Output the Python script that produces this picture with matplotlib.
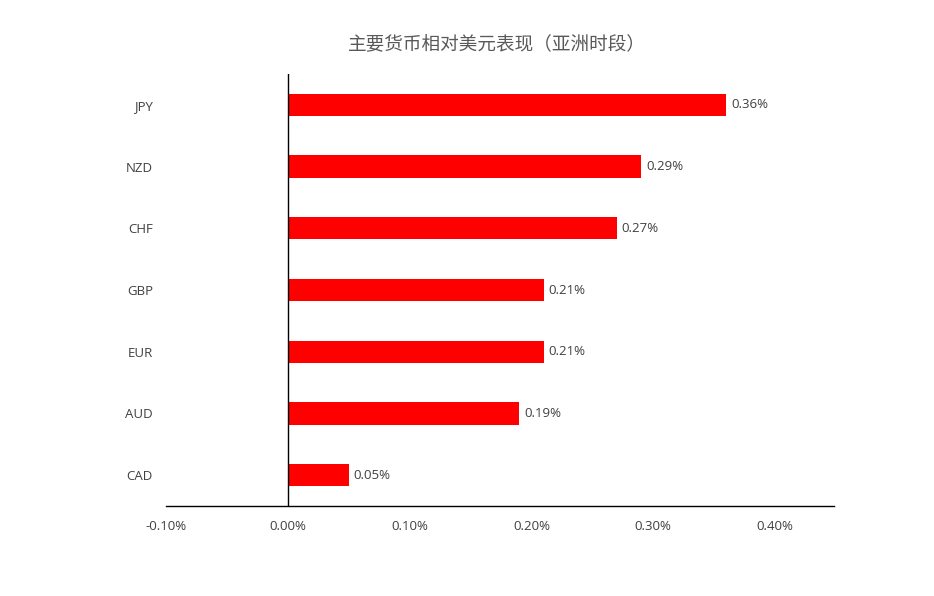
import matplotlib
matplotlib.use("Agg")
import matplotlib.pyplot as plt
from matplotlib.ticker import FixedLocator, FuncFormatter

plt.rcParams['font.family'] = ['Noto Sans CJK SC', 'DejaVu Sans']

title = "主要货币相对美元表现（亚洲时段）"
currencies = ["JPY", "NZD", "CHF", "GBP", "EUR", "AUD", "CAD"]
values = [0.36, 0.29, 0.27, 0.21, 0.21, 0.19, 0.05]
x_ticks = [-0.10, 0.00, 0.10, 0.20, 0.30, 0.40]

fig = plt.figure(figsize=(9.34, 5.96), dpi=100)
ax = fig.add_axes([166/934, 90/596, (834-166)/934, (522-90)/596])

n = len(currencies)
ypos = list(range(n))[::-1]
ax.barh(ypos, values, height=0.36, color="#FF0000", zorder=2)
ax.set_ylim(-0.5, n - 0.5)
ax.set_xlim(-0.1, 0.4484)

for y, v in zip(ypos, values):
    ax.annotate(f"{v:.2f}%", xy=(v, y), xytext=(3.5, 0), textcoords="offset points",
                va="center", ha="left", fontsize=9.5, color="#404040",
                family=["Open Sans", "DejaVu Sans"])

ax.axvline(0, color="black", lw=1.0, zorder=3)
for s in ["top", "right", "left"]:
    ax.spines[s].set_visible(False)
ax.spines["bottom"].set_color("black")
ax.spines["bottom"].set_linewidth(1.0)

ax.xaxis.set_major_locator(FixedLocator(x_ticks))
ax.xaxis.set_major_formatter(FuncFormatter(lambda x, p: f"{x:.2f}%"))
ax.set_yticks(ypos)
ax.set_yticklabels(currencies)
ax.tick_params(axis="x", length=0, pad=10, labelsize=9.5, labelcolor="#404040")
ax.tick_params(axis="y", length=0, pad=9.5, labelsize=9.5, labelcolor="#404040")
for lab in ax.get_xticklabels() + ax.get_yticklabels():
    lab.set_family(["Open Sans", "DejaVu Sans"])

fig.text(497/934, 1 - 45/596, title, ha="center", va="center",
         fontsize=13.4, color="#595959", fontweight="light")

fig.savefig("out.png", dpi=100)
